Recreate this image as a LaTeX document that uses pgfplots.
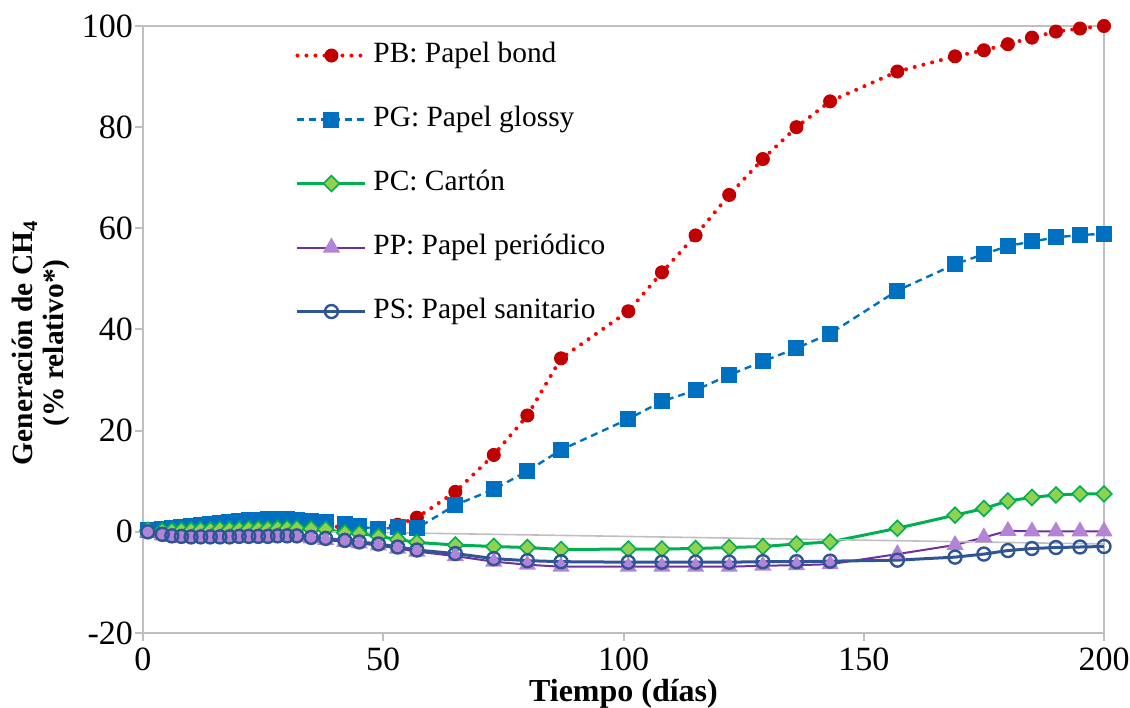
\documentclass[border=0pt]{standalone}
\usepackage{pgfplots}
\pgfplotsset{compat=1.18}
\usepackage{fontspec}
\setmainfont{Liberation Serif}
\definecolor{pbline}{HTML}{FF0000}
\definecolor{pbmark}{HTML}{C00000}
\definecolor{pg}{HTML}{0070C0}
\definecolor{pcline}{HTML}{00B050}
\definecolor{pcfill}{HTML}{92D050}
\definecolor{ppline}{HTML}{7030A0}
\definecolor{ppfill}{HTML}{B383D6}
\definecolor{ps}{HTML}{2F5597}
\definecolor{axgray}{HTML}{BFBFBF}
\begin{document}
\begin{tikzpicture}[font=\fontsize{14}{15}\selectfont]
\useasboundingbox (-71.5pt,-37pt) rectangle (493.5pt,316.5pt);
\begin{axis}[
  at={(0pt,0pt)}, anchor=south west,
  scale only axis, width=480.5pt, height=303.5pt,
  xmin=0, xmax=200, ymin=-20, ymax=100,
  xtick={0,50,...,200}, ytick={-20,0,...,100},
  tick pos=left, tick align=outside, major tick length=4pt,
  axis line style={axgray, line width=1pt},
  every tick/.style={axgray, line width=1pt},
  /pgf/number format/assume math mode=true,
  ticklabel style={font=\fontsize{17}{18}\selectfont},
  xticklabel style={yshift=0pt},
  yticklabel style={xshift=2.5pt},
  clip=false,
  xlabel={Tiempo (días)},
  xlabel style={font=\bfseries\fontsize{16}{17}\selectfont, at={(axis description cs:0.5,-0.1)}, anchor=center},
  ylabel={Generación de CH\textsubscript{4}\\(\% relativo*)},
  ylabel style={font=\bfseries\fontsize{14.7}{15.5}\selectfont, align=center, at={(axis description cs:-0.106,0.478)}, anchor=center},
  legend cell align=left,
  legend style={draw=none, fill=none, at={(axis cs:30.4,97.6)}, anchor=north west,
    font=\fontsize{14.7}{15}\selectfont, row sep=19pt,
    nodes={inner sep=0pt, text height=10pt, text depth=3pt},
    /tikz/every odd column/.append style={column sep=3pt}},
  legend image code/.code={\draw[mark repeat=2,mark phase=2] plot coordinates {(0pt,0pt) (17pt,0pt) (34pt,0pt)};},
]
\addplot[pbline, line width=2pt, dash pattern=on 0pt off 4.5pt, line cap=round,
  mark=*, mark size=3.25pt, mark options={solid, fill=pbmark, draw=pbmark, line width=0.5pt}] coordinates {
(1,0.3)(4,0.3)(6,0.4)(8,0.5)(10,0.5)(12,0.6)(14,0.6)(16,0.7)(18,0.7)(20,0.8)(22,0.8)(24,0.8)(26,0.9)(28,0.9)(30,0.9)(32,1.0)(35,1.0)(38,1.0)(42,1.0)(45,0.9)(49,0.8)(53,1.4)(57,2.8)(65,7.9)(73,15.2)(80,23.0)(87,34.3)(101,43.6)(108,51.3)(115,58.6)(122,66.6)(129,73.7)(136,80.0)(143,85.1)(157,91.0)(169,94.0)(175,95.2)(180,96.4)(185,97.7)(190,98.9)(195,99.5)(200,100)};
\addlegendentry{PB: Papel bond}
\addplot[pg, line width=1.2pt, dash pattern=on 3.5pt off 2.5pt,
  mark=square*, mark size=3.4pt, mark options={solid, fill=pg, draw=pg}] coordinates {
(1,0.3)(4,0.5)(6,0.7)(8,1.0)(10,1.2)(12,1.3)(14,1.5)(16,1.8)(18,1.9)(20,2.1)(22,2.3)(24,2.4)(26,2.5)(28,2.5)(30,2.5)(32,2.4)(35,2.2)(38,2.0)(42,1.5)(45,1.1)(49,0.5)(53,0.9)(57,0.7)(65,5.3)(73,8.4)(80,12.0)(87,16.2)(101,22.3)(108,25.8)(115,28.0)(122,31.0)(129,33.7)(136,36.3)(143,39.2)(157,47.7)(169,52.9)(175,54.9)(180,56.5)(185,57.4)(190,58.2)(195,58.7)(200,58.9)};
\addlegendentry{PG: Papel glossy}
\addplot[pcline, line width=1.5pt,
  mark=square*, mark size=2.8pt, mark options={solid, rotate=45, fill=pcfill, draw=pcline, line width=0.8pt}] coordinates {
(1,0.3)(4,0.2)(6,0.2)(8,0.3)(10,0.3)(12,0.4)(14,0.4)(16,0.5)(18,0.5)(20,0.5)(22,0.6)(24,0.6)(26,0.6)(28,0.7)(30,0.7)(32,0.7)(35,0.6)(38,0.5)(42,-0.2)(45,-0.3)(49,-0.9)(53,-1.5)(57,-2.1)(65,-2.6)(73,-2.9)(80,-3.1)(87,-3.5)(101,-3.4)(108,-3.4)(115,-3.3)(122,-3.1)(129,-2.9)(136,-2.4)(143,-2.0)(157,0.7)(169,3.3)(175,4.6)(180,6.1)(185,6.8)(190,7.3)(195,7.5)(200,7.5)};
\addlegendentry{PC: Cartón}
\addplot[ppline, line width=1pt,
  mark=triangle*, mark size=4pt, mark options={solid, fill=ppfill, draw=ppfill}] coordinates {
(1,-0.1)(4,-0.7)(6,-1.0)(8,-1.2)(10,-1.2)(12,-1.2)(14,-1.2)(16,-1.2)(18,-1.2)(20,-1.1)(22,-1.1)(24,-1.1)(26,-1.1)(28,-1.0)(30,-1.0)(32,-1.0)(35,-1.3)(38,-1.6)(42,-2.0)(45,-2.3)(49,-2.7)(53,-3.3)(57,-3.9)(65,-4.8)(73,-5.9)(80,-6.5)(87,-6.9)(101,-6.9)(108,-6.9)(115,-6.9)(122,-6.9)(129,-6.7)(136,-6.6)(143,-6.4)(157,-4.4)(169,-2.6)(175,-1.1)(180,0.2)(185,0.1)(190,0.1)(195,0.1)(200,0.1)};
\addlegendentry{PP: Papel periódico}
\addplot[ps, line width=1.5pt,
  mark=o, mark size=3.25pt, mark options={solid, draw=ps, line width=1.2pt}] coordinates {
(1,0.0)(4,-0.5)(6,-0.8)(8,-0.9)(10,-1.0)(12,-1.0)(14,-1.0)(16,-1.0)(18,-1.0)(20,-0.9)(22,-0.9)(24,-0.9)(26,-0.9)(28,-0.8)(30,-0.8)(32,-0.8)(35,-1.1)(38,-1.3)(42,-1.7)(45,-2.0)(49,-2.4)(53,-3.0)(57,-3.6)(65,-4.3)(73,-5.3)(80,-5.7)(87,-5.9)(101,-6.0)(108,-6.0)(115,-6.0)(122,-6.0)(129,-5.9)(136,-5.9)(143,-5.8)(157,-5.6)(169,-5.0)(175,-4.4)(180,-3.7)(185,-3.3)(190,-3.1)(195,-3.0)(200,-2.9)};
\addlegendentry{PS: Papel sanitario}
\addplot[color=axgray, line width=0.8pt, forget plot] coordinates {(0,0.6)(200,-2.4)};
\end{axis}
\end{tikzpicture}
\end{document}
